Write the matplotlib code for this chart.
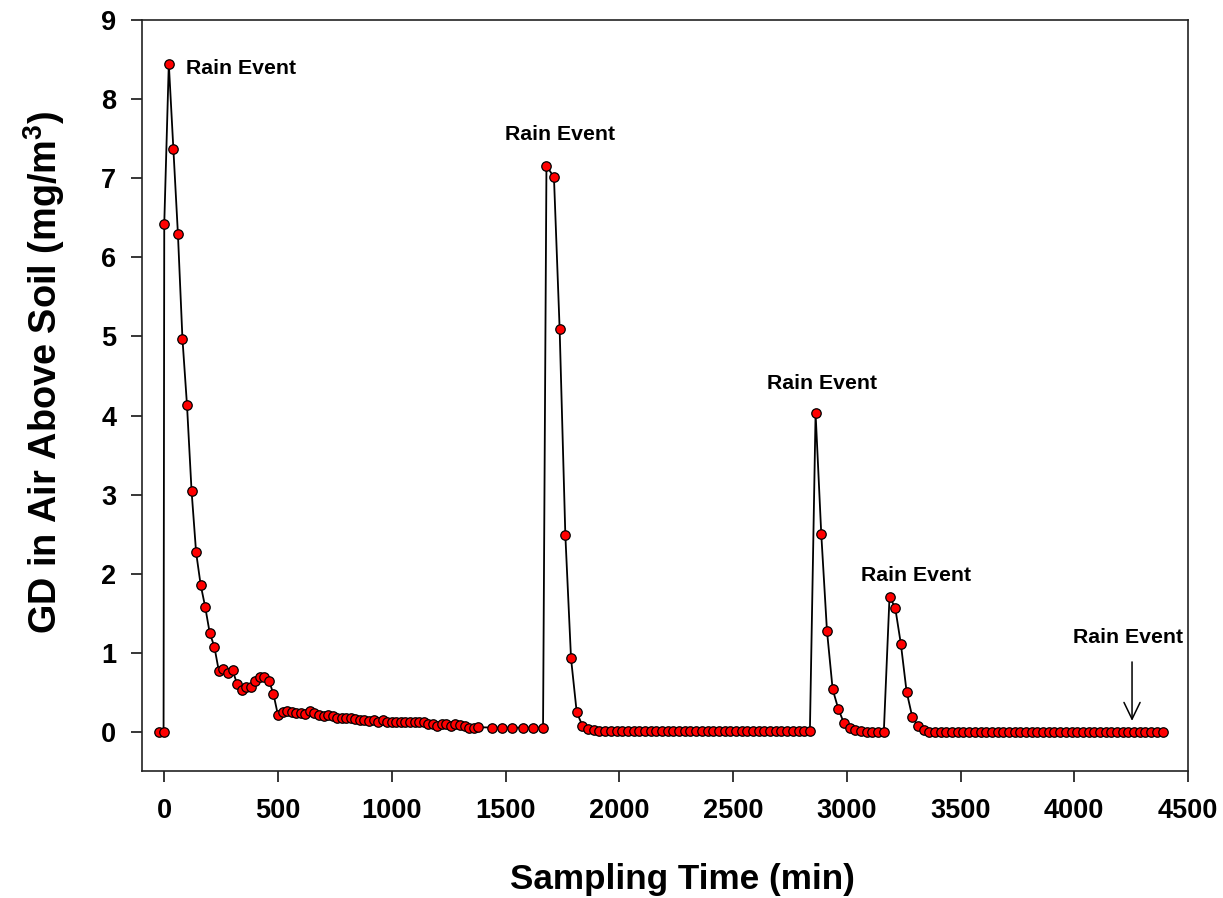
import matplotlib
matplotlib.use("Agg")
import matplotlib.pyplot as plt
import numpy as np

plt.rcParams['font.family'] = ['Liberation Sans', 'DejaVu Sans']
plt.rcParams['font.weight'] = 'bold'
plt.rcParams['mathtext.fontset'] = 'custom'
plt.rcParams['mathtext.rm'] = 'Liberation Sans:bold'
plt.rcParams['mathtext.bf'] = 'Liberation Sans:bold'
plt.rcParams['mathtext.it'] = 'Liberation Sans:bold:italic'
plt.rcParams['mathtext.default'] = 'rm'

# ---------------- data: sampling time (min) and GD in air (mg/m^3) ----------------
t_pre = [-25, -3]
gd_pre = [0.0, 0.0]

t_event1 = [0, 20, 40, 60, 80, 100, 120, 140, 160, 180, 200, 220, 240, 260,
            280, 300, 320, 340, 360, 380, 400, 420, 440, 460, 480, 500]
gd_event1 = [6.42, 8.45, 7.37, 6.30, 4.97, 4.13, 3.05, 2.27, 1.86, 1.58, 1.25,
             1.08, 0.77, 0.79, 0.75, 0.78, 0.61, 0.53, 0.57, 0.57, 0.65, 0.69,
             0.69, 0.65, 0.48, 0.21]

t_tail1 = [520, 540, 560, 580, 600, 620, 640, 660, 680, 700, 720, 740, 760,
           780, 800, 820, 840, 860, 880, 900, 920, 940, 960, 980, 1000, 1020,
           1040, 1060, 1080, 1100, 1120, 1140, 1160, 1180, 1200, 1220, 1240,
           1260, 1280, 1300, 1320, 1340, 1360, 1380,
           1440, 1485, 1530, 1575, 1620, 1665]
gd_tail1 = [0.25, 0.26, 0.25, 0.24, 0.24, 0.23, 0.27, 0.245, 0.215, 0.20,
            0.215, 0.20, 0.18, 0.17, 0.18, 0.18, 0.165, 0.155, 0.15, 0.14,
            0.145, 0.13, 0.145, 0.13, 0.12, 0.12, 0.12, 0.13, 0.12, 0.12,
            0.12, 0.12, 0.105, 0.095, 0.08, 0.095, 0.105, 0.075, 0.095, 0.09,
            0.075, 0.055, 0.055, 0.06,
            0.055, 0.055, 0.055, 0.055, 0.055, 0.055]

t_event2 = [1680, 1713, 1738, 1763, 1788, 1813]
gd_event2 = [7.16, 7.01, 5.09, 2.49, 0.93, 0.25]

t_tail2 = [1838, 1863, 1888, 1913, 1938, 1963, 1988, 2013, 2038, 2063, 2088,
           2113, 2138, 2163, 2188, 2213, 2238, 2263, 2288, 2313, 2338, 2363,
           2388, 2413, 2438, 2463, 2488, 2513, 2538, 2563, 2588, 2613, 2638,
           2663, 2688, 2713, 2738, 2763, 2788, 2813, 2838]
gd_tail2 = [0.08, 0.04, 0.025, 0.015, 0.01, 0.01, 0.01, 0.01, 0.01, 0.01,
            0.01, 0.01, 0.01, 0.01, 0.01, 0.01, 0.01, 0.01, 0.01, 0.01, 0.01,
            0.01, 0.01, 0.01, 0.01, 0.01, 0.01, 0.01, 0.01, 0.01, 0.01, 0.01,
            0.01, 0.01, 0.01, 0.01, 0.01, 0.01, 0.01, 0.01, 0.01]

t_event3 = [2863, 2888, 2913, 2938, 2963, 2988, 3013, 3038, 3063, 3088, 3113,
            3138, 3163]
gd_event3 = [4.03, 2.50, 1.28, 0.54, 0.29, 0.11, 0.047, 0.02, 0.01, 0.005,
             0.005, 0.005, 0.005]

t_event4 = [3188, 3213, 3238, 3263, 3288, 3313, 3338]
gd_event4 = [1.71, 1.57, 1.11, 0.51, 0.19, 0.075, 0.025]

t_tail4 = [3363, 3388, 3413, 3438, 3463, 3488, 3513, 3538, 3563, 3588, 3613,
           3638, 3663, 3688, 3713, 3738, 3763, 3788, 3813, 3838, 3863, 3888,
           3913, 3938, 3963, 3988, 4013, 4038, 4063, 4088, 4113, 4138, 4163,
           4188, 4213, 4238, 4263, 4288, 4313, 4338, 4363, 4388]
gd_tail4 = [0.005, 0.005, 0.005, 0.005, 0.005, 0.005, 0.005, 0.005, 0.005,
            0.005, 0.005, 0.005, 0.005, 0.005, 0.005, 0.005, 0.005, 0.005,
            0.005, 0.005, 0.005, 0.005, 0.005, 0.005, 0.005, 0.005, 0.005,
            0.005, 0.005, 0.005, 0.005, 0.005, 0.005, 0.005, 0.005, 0.005,
            0.005, 0.005, 0.005, 0.005, 0.005, 0.005]

# annotation labels
label_text = "Rain Event"
label_x = [97, 1738, 2890, 3304, 4236]
label_y = [8.39, 7.55, 4.41, 1.98, 1.20]
label_ha = ["left", "center", "center", "center", "center"]
arrow_x = 4254
arrow_y_from = 0.885
arrow_y_to = 0.14

x_ticks = [0, 500, 1000, 1500, 2000, 2500, 3000, 3500, 4000, 4500]
y_ticks = [0, 1, 2, 3, 4, 5, 6, 7, 8, 9]

# ---------------- assemble ----------------
t = np.concatenate([t_pre, t_event1, t_tail1, t_event2, t_tail2,
                    t_event3, t_event4, t_tail4])
gd = np.concatenate([gd_pre, gd_event1, gd_tail1, gd_event2, gd_tail2,
                     gd_event3, gd_event4, gd_tail4])

fig = plt.figure(figsize=(12.23, 8.98), dpi=100)
ax = fig.add_axes([141.5 / 1223, 1 - 770.7 / 898, (1188 - 141.5) / 1223,
                   (770.7 - 20) / 898])

ax.plot(t, gd, color='black', lw=1.3, marker='o', markersize=6.8,
        markerfacecolor='#ff0000', markeredgecolor='black',
        markeredgewidth=0.9, zorder=3)

ax.set_xlim(-100, 4500)
ax.set_ylim(-0.49, 9)
ax.set_xticks(x_ticks)
ax.set_yticks(y_ticks)
ax.tick_params(direction='out', length=8, width=1.1, labelsize=19.5,
               top=False, right=False)
ax.tick_params(axis='x', pad=12)
ax.tick_params(axis='y', pad=10)
for lab in ax.get_xticklabels() + ax.get_yticklabels():
    lab.set_fontweight('bold')
for sp in ax.spines.values():
    sp.set_linewidth(1.2)
    sp.set_color('#222222')

for x, y, ha in zip(label_x, label_y, label_ha):
    ax.text(x, y, label_text, ha=ha, va='center', fontsize=15.3,
            fontweight='bold')

ax.annotate('', xy=(arrow_x, arrow_y_to), xytext=(arrow_x, arrow_y_from),
            arrowprops=dict(arrowstyle='->, head_length=1.2, head_width=0.58',
                            lw=1.1, color='black', shrinkA=0, shrinkB=0))

fig.text(682 / 1223, 1 - 880 / 898, "Sampling Time (min)", ha='center',
         va='center', fontsize=25.3, fontweight='bold')
fig.text(44 / 1223, 1 - 372 / 898, r"GD in Air Above Soil (mg/m$^{3}$)",
         ha='center', va='center', rotation=90, fontsize=27.3,
         fontweight='bold')

fig.savefig("out.png", dpi=100)
